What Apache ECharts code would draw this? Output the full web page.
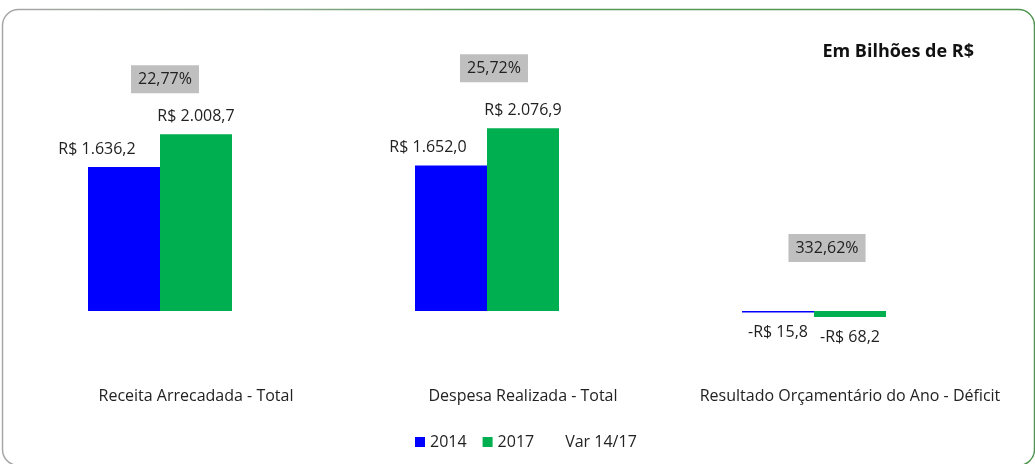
<!DOCTYPE html>
<html>
  <head>
    <meta charset="UTF-8">
    <title>receita despesa</title>
    <script src="https://cdn.jsdelivr.net/npm/echarts@6/dist/echarts.min.js"></script>
    <style>
      body { margin: 0; background: #fff; }
      #main { width: 1035px; height: 464px; }
    </style>
  </head>
  <body>
    <div id="main"></div>
    <script>
// dados (bilhões de R$)
var categorias = ['Receita Arrecadada - Total', 'Despesa Realizada - Total', 'Resultado Orçamentário do Ano - Déficit'];
var valores2014 = [1636.2, 1652.0, -15.8];
var valores2017 = [2008.7, 2076.9, -68.2];
var variacao = [22.77, 25.72, 332.62];

var fonte = '"Open Sans", "Noto Sans", sans-serif';
var corTexto = '#222';

function reais(v) {
    var s = Math.abs(v).toFixed(1).split('.');
    var inteiro = s[0].replace(/\B(?=(\d{3})+(?!\d))/g, '.');
    return (v < 0 ? '-' : '') + 'R$ ' + inteiro + ',' + s[1];
}
function pct(v) {
    return v.toFixed(2).replace('.', ',') + '%';
}

// deslocamentos manuais dos rotulos (como no excel)
var offAzul = [-27, -23, 0];
var offVar = [[-103, 4], [-101, -1], [-95, -4]];

function itensBarra(vals, off) {
    return vals.map(function (v, i) {
        return {
            value: v,
            label: {
                position: v < 0 ? 'bottom' : 'top',
                distance: v < 0 ? 12 : 10,
                offset: [off ? off[i] : 0, 0]
            }
        };
    });
}

// a serie Var fica como barra invisivel (ocupa o 3o lugar do grupo)
var itensVar = variacao.map(function (p, i) {
    return {
        value: Math.max(valores2014[i], valores2017[i], 0),
        pct: p,
        label: { offset: offVar[i] }
    };
});

var chartDom = document.getElementById('main');
var myChart = echarts.init(chartDom);

var option = {
    animation: false,
    textStyle: { fontFamily: fonte },
    title: {
        text: 'Em Bilhões de R$',
        right: 56,
        top: 38,
        textStyle: { fontFamily: fonte, fontSize: 18, fontWeight: 'bold', color: '#111' }
    },
    graphic: [{
        type: 'rect',
        shape: { x: 2.5, y: 9.5, width: 1032, height: 456, r: 16 },
        style: {
            fill: 'none',
            lineWidth: 1.5,
            stroke: new echarts.graphic.LinearGradient(0, 0, 1, 0, [
                { offset: 0, color: '#a6a6a6' },
                { offset: 0.28, color: '#8aa88a' },
                { offset: 0.45, color: '#589958' },
                { offset: 1, color: '#4f944f' }
            ])
        },
        silent: true
    }],
    legend: {
        left: 410,
        top: 429,
        icon: 'rect',
        itemWidth: 10,
        itemHeight: 10,
        itemGap: 16,
        textStyle: { fontFamily: fonte, fontSize: 16, color: corTexto },
        data: ['2014', '2017', { name: 'Var 14/17', itemStyle: { opacity: 0 } }]
    },
    grid: { left: 32.5, right: 21.5, top: 91, bottom: 109 },
    xAxis: {
        type: 'category',
        data: categorias,
        axisLine: { show: false },
        axisTick: { show: false },
        axisLabel: { interval: 0, margin: 33, fontSize: 16, color: corTexto, fontFamily: fonte }
    },
    yAxis: {
        type: 'value',
        min: -500,
        max: 2500,
        show: false,
        splitLine: { show: false }
    },
    series: [
        {
            name: '2014',
            type: 'bar',
            barWidth: 72,
            barGap: '0%',
            itemStyle: { color: '#0000ff' },
            label: {
                show: true,
                fontSize: 16,
                color: corTexto,
                formatter: function (p) { return reais(p.value); }
            },
            data: itensBarra(valores2014, offAzul)
        },
        {
            name: '2017',
            type: 'bar',
            barWidth: 72,
            itemStyle: { color: '#00b050' },
            label: {
                show: true,
                fontSize: 16,
                color: corTexto,
                formatter: function (p) { return reais(p.value); }
            },
            data: itensBarra(valores2017, null)
        },
        {
            name: 'Var 14/17',
            type: 'bar',
            barWidth: 72,
            itemStyle: { color: 'rgba(0,0,0,0)' },
            label: {
                show: true,
                position: 'top',
                distance: 45,
                fontSize: 16,
                color: corTexto,
                backgroundColor: '#bfbfbf',
                padding: [6, 7, 6, 7],
                formatter: function (p) { return pct(p.data.pct); }
            },
            data: itensVar
        }
    ]
};

myChart.setOption(option);
    </script>
  </body>
</html>
